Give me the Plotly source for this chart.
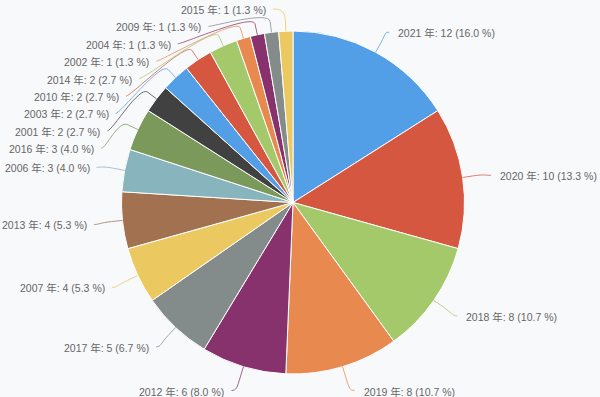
import math
import plotly.graph_objects as go

# ---- data ----
years = ["2021", "2020", "2018", "2019", "2012", "2017", "2007", "2013", "2006",
         "2016", "2001", "2003", "2010", "2014", "2002", "2004", "2009", "2015"]
counts = [12, 10, 8, 8, 6, 5, 4, 4, 3, 3, 2, 2, 2, 2, 1, 1, 1, 1]

palette = ["#529fe7", "#d6573f", "#a4c96a", "#e8894f", "#87326c", "#848b8b",
           "#ebc860", "#a27150", "#87b4bd", "#7b995b", "#414141"]
colors = [palette[i % len(palette)] for i in range(len(years))]

# ---- layout geometry (pixels) ----
W, H = 600, 397
CX, CY, R = 293, 202.5, 171.5
LCY, RX, RY = 205.0, 200.0, 196.0   # label ellipse
SPACING = 17.4
TOP, BOTTOM = 10.0, 391.5
BREAK = 11.0
BG = "#f8f9fb"

total = sum(counts)
texts = [f"{y} 年: {c} ({c / total * 100:.1f} %)" for y, c in zip(years, counts)]

# mid angles (clockwise from 12 o'clock)
mids = []
cum = 0
for c in counts:
    mids.append((cum + c / 2) / total * 2 * math.pi)
    cum += c

def px(x):
    return x / W

def py(y):
    return 1 - y / H

# label positions with collision avoidance per side
labels = []
for i, th in enumerate(mids):
    side = 1 if math.sin(th) > 0 else -1
    labels.append({"i": i, "side": side, "y": LCY - RY * math.cos(th)})

for side in (1, -1):
    grp = sorted([l for l in labels if l["side"] == side], key=lambda l: l["y"])
    prev = None
    for l in grp:
        lo = TOP if prev is None else prev + SPACING
        l["y"] = max(l["y"], lo)
        prev = l["y"]
    nxt = None
    for l in reversed(grp):
        hi = BOTTOM if nxt is None else nxt - SPACING
        l["y"] = min(l["y"], hi)
        nxt = l["y"]

fig = go.Figure()
fig.add_trace(go.Pie(
    values=counts,
    labels=texts,
    sort=False,
    direction="clockwise",
    rotation=0,
    marker=dict(colors=colors, line=dict(color="white", width=1)),
    textinfo="none",
    hoverinfo="label",
    showlegend=False,
    domain=dict(x=[px(CX - R), px(CX + R)], y=[py(CY + R), py(CY - R)]),
))

shapes = []
annotations = []
for l in labels:
    i, side, y = l["i"], l["side"], l["y"]
    th = mids[i]
    dy = (y - LCY) / RY
    ex = CX + side * RX * math.sqrt(max(0.0, 1 - dy * dy))
    ey = y - 1
    tx, ty = CX + R * math.sin(th), CY - R * math.cos(th)
    bx, by = CX + (R + BREAK) * math.sin(th), CY - (R + BREAK) * math.cos(th)
    c1x, c1y = ex - side * 5, ey
    c2x, c2y = 2 * bx - tx, 2 * by - ty
    path = (f"M {px(ex):.5f} {py(ey):.5f} C {px(c1x):.5f} {py(c1y):.5f} "
            f"{px(c2x):.5f} {py(c2y):.5f} {px(bx):.5f} {py(by):.5f} "
            f"L {px(tx):.5f} {py(ty):.5f}")
    shapes.append(dict(type="path", xref="paper", yref="paper", path=path,
                       line=dict(color=colors[i], width=1), opacity=0.75,
                       layer="above"))
    gap = 7 if side > 0 else 5
    annotations.append(dict(
        x=px(ex + side * gap), y=py(y), xref="paper", yref="paper",
        text=texts[i], showarrow=False,
        xanchor="left" if side > 0 else "right", yanchor="middle",
        font=dict(family="Liberation Sans, Arial, Noto Sans CJK JP", size=10.5,
                  color="#666666"),
    ))

fig.update_layout(
    width=W, height=H,
    margin=dict(l=0, r=0, t=0, b=0),
    paper_bgcolor=BG, plot_bgcolor=BG,
    shapes=shapes, annotations=annotations,
)

fig.write_html(
    "out.html",
    config={"displayModeBar": False},
    post_script="document.body.style.margin='0';document.body.style.overflow='hidden';",
)
